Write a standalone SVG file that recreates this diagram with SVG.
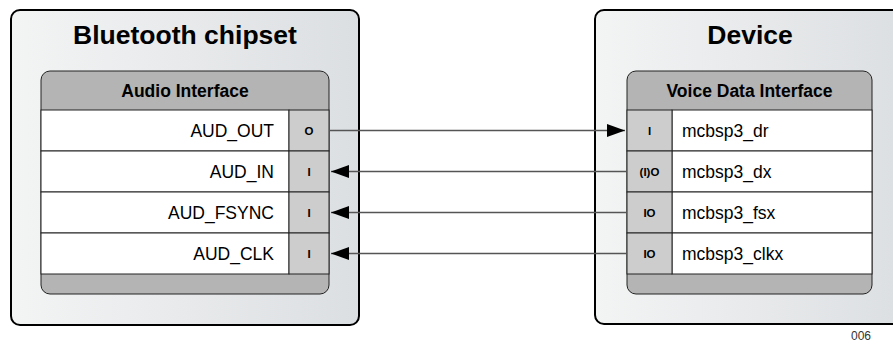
<svg xmlns="http://www.w3.org/2000/svg" width="893" height="348" viewBox="0 0 893 348">
<defs>
<linearGradient id="bg" x1="0" y1="0" x2="1" y2="0">
<stop offset="0" stop-color="#f3f4f4"/>
<stop offset="1" stop-color="#dcdfe2"/>
</linearGradient>
<marker id="ah" markerWidth="18" markerHeight="13" refX="18" refY="6.5" orient="auto" markerUnits="userSpaceOnUse">
<path d="M0,0 L18,6.5 L0,13 Z" fill="#000"/>
</marker>
<style>
.outer{fill:url(#bg);stroke:#000;stroke-width:2}
.panel{fill:#b4b4b4;stroke:#222;stroke-width:1}
.row{fill:#fff;stroke:#222;stroke-width:1}
.pin{fill:#cdcdcd;stroke:#222;stroke-width:1}
.title{font-family:"Liberation Sans",Arial,sans-serif;font-weight:bold;font-size:26.5px;fill:#000;text-anchor:middle}
.sub{font-family:"Liberation Sans",Arial,sans-serif;font-weight:bold;font-size:17.5px;fill:#000;text-anchor:middle}
.lbl{font-family:"Liberation Sans",Arial,sans-serif;font-size:17.5px;fill:#000}
.pl{font-family:"Liberation Sans",Arial,sans-serif;font-weight:bold;font-size:11.5px;fill:#000;text-anchor:middle}
.wire{stroke:#555;stroke-width:1.3;fill:none}
.note{font-family:"Liberation Sans",Arial,sans-serif;font-size:12px;fill:#333;text-anchor:end}
</style>
</defs>

<g id="bluetooth-chipset">
<rect class="outer" x="11" y="10" width="348" height="315" rx="9"/>
<text class="title" x="185" y="44">Bluetooth chipset</text>
<rect class="panel" x="41" y="71" width="288" height="223" rx="9"/>
<text class="sub" x="185" y="97">Audio Interface</text>
<rect class="row" x="41" y="110" width="248" height="41"/>
<rect class="row" x="41" y="151" width="248" height="41"/>
<rect class="row" x="41" y="192" width="248" height="41"/>
<rect class="row" x="41" y="233" width="248" height="41"/>
<rect class="pin" x="289" y="110" width="40" height="41"/>
<rect class="pin" x="289" y="151" width="40" height="41"/>
<rect class="pin" x="289" y="192" width="40" height="41"/>
<rect class="pin" x="289" y="233" width="40" height="41"/>
<text class="lbl" x="274" y="137" text-anchor="end">AUD_OUT</text>
<text class="lbl" x="274" y="178" text-anchor="end">AUD_IN</text>
<text class="lbl" x="274" y="219" text-anchor="end">AUD_FSYNC</text>
<text class="lbl" x="274" y="260" text-anchor="end">AUD_CLK</text>
<text class="pl" x="309" y="134.5">O</text>
<text class="pl" x="309" y="175.5">I</text>
<text class="pl" x="309" y="216.5">I</text>
<text class="pl" x="309" y="257.5">I</text>
</g>

<g id="device">
<rect class="outer" x="595" y="10" width="312" height="314" rx="9"/>
<text class="title" x="750" y="44">Device</text>
<rect class="panel" x="627" y="71" width="245" height="223" rx="9"/>
<text class="sub" x="749.5" y="97">Voice Data Interface</text>
<rect class="row" x="672" y="110" width="200" height="41"/>
<rect class="row" x="672" y="151" width="200" height="41"/>
<rect class="row" x="672" y="192" width="200" height="41"/>
<rect class="row" x="672" y="233" width="200" height="41"/>
<rect class="pin" x="627" y="110" width="45" height="41"/>
<rect class="pin" x="627" y="151" width="45" height="41"/>
<rect class="pin" x="627" y="192" width="45" height="41"/>
<rect class="pin" x="627" y="233" width="45" height="41"/>
<text class="lbl" x="682" y="137">mcbsp3_dr</text>
<text class="lbl" x="682" y="178">mcbsp3_dx</text>
<text class="lbl" x="682" y="219">mcbsp3_fsx</text>
<text class="lbl" x="682" y="260">mcbsp3_clkx</text>
<text class="pl" x="649.5" y="134.5">I</text>
<text class="pl" x="649.5" y="175.5">(I)O</text>
<text class="pl" x="649.5" y="216.5">IO</text>
<text class="pl" x="649.5" y="257.5">IO</text>
</g>

<g id="connectors">
<line class="wire" x1="329" y1="130.5" x2="625" y2="130.5" marker-end="url(#ah)"/>
<line class="wire" x1="627" y1="171.5" x2="331" y2="171.5" marker-end="url(#ah)"/>
<line class="wire" x1="627" y1="212.5" x2="331" y2="212.5" marker-end="url(#ah)"/>
<line class="wire" x1="627" y1="253.5" x2="331" y2="253.5" marker-end="url(#ah)"/>
</g>

<text class="note" x="871" y="340">006</text>
</svg>
